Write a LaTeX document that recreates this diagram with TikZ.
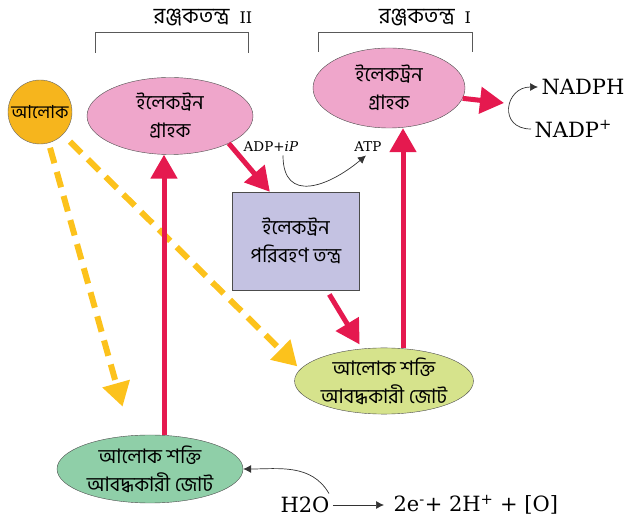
\documentclass[tikz,border=0pt]{standalone}
\usepackage{fontspec}
\setmainfont{DejaVu Serif}
\newfontfamily\bnfont[Script=Bengali]{Hind Siliguri}
\usetikzlibrary{shapes.geometric, arrows.meta, positioning}
\definecolor{pinkfill}{HTML}{EFA6CB}
\definecolor{jotAfill}{HTML}{8FCFA8}
\definecolor{jotBfill}{HTML}{D6E38C}
\definecolor{lavfill}{HTML}{C4C2E2}
\definecolor{sunfill}{HTML}{F6B51D}
\definecolor{redarrow}{HTML}{E5194F}
\definecolor{yellowdash}{HTML}{FCC21C}
\tikzset{
  bntext/.style={font=\bnfont\fontsize{20}{28}\selectfont, align=center, text=black},
  acceptor/.style={ellipse, draw=black!70, fill=pinkfill, inner sep=0pt, bntext},
  trapjot/.style={ellipse, draw=black!70, inner sep=0pt, bntext},
  carrier/.style={rectangle, draw=black!70, fill=lavfill, minimum width=127pt, minimum height=98pt, bntext},
  sunnode/.style={circle, draw=black!60, fill=sunfill, minimum size=64pt, inner sep=0pt, font=\bnfont\fontsize{18}{20}\selectfont},
  title/.style={font=\bnfont\fontsize{22}{24}\selectfont},
  chem/.style={font=\fontsize{21}{24}\selectfont},
  chemsmall/.style={font=\fontsize{13.5}{16}\selectfont},
  bracket/.style={draw=black!65, line width=0.8pt},
  redarrow/.style={draw=redarrow, line width=5pt, -{Triangle[length=24pt, width=26pt]}},
  lightarrow/.style={draw=yellowdash, line width=6pt, dash pattern=on 16pt off 9pt, -{Triangle[length=24pt, width=27pt]}},
  thinarrow/.style={draw=black!80, line width=0.7pt, -{Latex[length=8pt, width=8pt]}}
}

\begin{document}
\begin{tikzpicture}[x=1pt, y=-1pt]
    \useasboundingbox (0,0) rectangle (630,526);
    % Titles and brackets
    \node[title] (psII) at (203,18) {রঞ্জকতন্ত্র~~\rmfamily\fontsize{16}{18}\selectfont II};
    \node[title] (psI) at (425,18) {রঞ্জকতন্ত্র~~\rmfamily\fontsize{16}{18}\selectfont I};
    \draw[bracket] (95,53) -- (95,32) -- (248,32) -- (248,53);
    \draw[bracket] (318,52) -- (318,32) -- (472,32) -- (472,52);

    % Nodes
    \node[sunnode] (sun) at (40,112) {আলোক};
    \node[acceptor, minimum width=166pt, minimum height=77pt] (grahakA) at (170,116) {ইলেকট্রন\\গ্রাহক};
    \node[acceptor, minimum width=152pt, minimum height=80pt] (grahakB) at (389,88) {ইলেকট্রন\\গ্রাহক};
    \node[carrier] (poribohon) at (296,241) {ইলেকট্রন\\পরিবহণ তন্ত্র};
    \node[trapjot, fill=jotBfill, minimum width=178pt, minimum height=65pt] (jotB) at (384,381) {আলোক শক্তি\\আবদ্ধকারী জোট};
    \node[trapjot, fill=jotAfill, minimum width=186pt, minimum height=68pt] (jotA) at (150,469) {আলোক শক্তি\\আবদ্ধকারী জোট};
    \node[chemsmall] (adp) at (271,147) {ADP+\textit{iP}};
    \node[chemsmall] (atp) at (368,147) {ATP};
    \node[chem, anchor=west] (nadph) at (538,87) {NADPH};
    \node[chem, anchor=west] (nadpp) at (531,129) {NADP\textsuperscript{+}};
    \coordinate (fork) at (504,103);
    \node[chem] (water) at (305,505) {H2O};
    \node[chem, anchor=west] (products) at (390,505) {2e\textsuperscript{-}+ 2H\textsuperscript{+} + [O]};

    % Arrows
    \draw[lightarrow, shorten <=5pt, shorten >=30pt] (sun) -- (jotA.120);
    \draw[lightarrow, shorten <=10pt, shorten >=4pt] (sun) -- (jotB.172);
    \draw[redarrow] (jotA.north -| 164,0) -- (grahakA.south -| 164,0);
    \draw[redarrow] (grahakA.-25) -- (poribohon.118);
    \draw[redarrow, shorten <=5pt, shorten >=5pt] (poribohon.-58) -- (jotB.124);
    \draw[redarrow] (jotB.north -| 403,0) -- (grahakB.south -| 403,0);
    \draw[redarrow] (grahakB.-8) -- (fork);
    \draw[thinarrow] (nadpp.west) to[out=180, in=180, looseness=2] (nadph.west);
    \draw[thinarrow] ([xshift=12pt]adp.south) to[out=-90, in=-140, looseness=1.5] ([xshift=-2pt]atp.south);
    \draw[thinarrow, shorten >=6pt] (water) -- (products);
    \draw[thinarrow] ([xshift=-4pt]water.north east) to[out=120, in=0] (jotA.east);
\end{tikzpicture}
\end{document}
